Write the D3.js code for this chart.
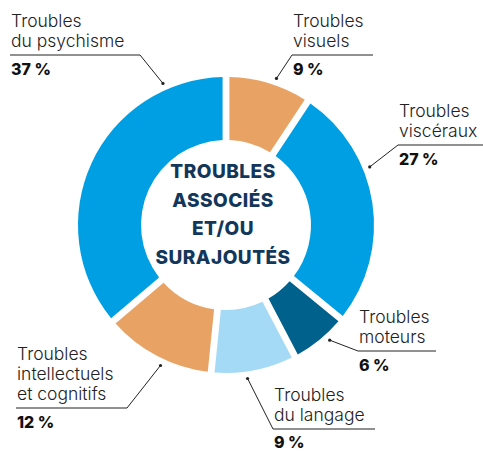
<!DOCTYPE html>
<html>
<head>
<meta charset="utf-8">
<script src="https://cdn.jsdelivr.net/npm/d3@7"></script>
<style>
  body { margin: 0; background: #fff; }
  svg { display: block; }
  .lbl { font-family: "Inter", "Open Sans", sans-serif; font-weight: 300; font-size: 17.5px; fill: #222; }
  .pct { font-family: "Inter", "Open Sans", sans-serif; font-weight: 800; font-size: 16px; fill: #111; }
  .center { font-family: "Inter", "Open Sans", sans-serif; font-weight: 800; font-size: 19px; fill: #12375a; letter-spacing: 0.5px; }
</style>
</head>
<body>
<div id="chart"></div>
<script>
// data, clockwise from the top
const categories = [
  ['Troubles', 'visuels'],
  ['Troubles', 'viscéraux'],
  ['Troubles', 'moteurs'],
  ['Troubles', 'du langage'],
  ['Troubles', 'intellectuels', 'et cognitifs'],
  ['Troubles', 'du psychisme']
];
const values = [9, 27, 6, 9, 12, 37];
const colors = ['#e8a264', '#009fe3', '#00618c', '#a4daf6', '#e8a264', '#009fe3'];
const centerTitle = ['TROUBLES', 'ASSOCIÉS', 'ET/OU', 'SURAJOUTÉS'];

// label layout: angle of the leader dot (deg), text corner, underline width
const labelLayout = [
  { angle: 19,  x: 293, y: 27,  w: 81,  side: 'left' },
  { angle: 68,  x: 399, y: 117, w: 86,  side: 'left' },
  { angle: 138, x: 359, y: 323, w: 78,  side: 'left' },
  { angle: 172, x: 274, y: 401, w: 102, side: 'left' },
  { angle: 205, x: 17,  y: 360, w: 111, side: 'right' },
  { angle: 336, x: 11,  y: 27,  w: 130, side: 'right' }
];

const width = 483, height = 452;
const cx = 226, cy = 225;
const outerR = 148, innerR = 85;

const svg = d3.select('#chart').append('svg')
  .attr('width', width)
  .attr('height', height);

const g = svg.append('g').attr('transform', `translate(${cx},${cy})`);

const pie = d3.pie().sort(null).value(d => d).padAngle(0.04);
const arc = d3.arc().innerRadius(innerR).outerRadius(outerR);

g.selectAll('path')
  .data(pie(values))
  .join('path')
  .attr('d', arc)
  .attr('fill', (d, i) => colors[i]);

// center title
g.selectAll('text.center')
  .data(centerTitle)
  .join('text')
  .attr('class', 'center')
  .attr('text-anchor', 'middle')
  .attr('x', -3)
  .attr('y', (d, i) => -47 + i * 28.5)
  .text(d => d);

// labels with leader lines
const lineH = 20;
const labels = svg.append('g');

categories.forEach((lines, i) => {
  const L = labelLayout[i];
  const a = L.angle * Math.PI / 180;
  const dotR = 155;
  const dx = cx + dotR * Math.sin(a);
  const dy = cy - dotR * Math.cos(a);
  const ruleY = L.y + (lines.length - 1) * lineH + 8;
  const x0 = L.x - 1, x1 = L.x - 1 + L.w;
  const elbowX = L.side === 'left' ? x0 : x1;

  labels.append('polyline')
    .attr('points', `${L.side === 'left' ? x1 : x0},${ruleY} ${elbowX},${ruleY} ${dx},${dy}`)
    .attr('fill', 'none')
    .attr('stroke', '#222')
    .attr('stroke-width', 1);

  labels.append('circle')
    .attr('cx', dx).attr('cy', dy).attr('r', 1.6)
    .attr('fill', '#222');

  const t = labels.append('text').attr('class', 'lbl');
  lines.forEach((s, j) => {
    t.append('tspan').attr('x', L.x).attr('y', L.y + j * lineH).text(s);
  });

  labels.append('text')
    .attr('class', 'pct')
    .attr('x', L.x)
    .attr('y', Math.min(ruleY + 20, height - 4))
    .text(values[i] + ' %');
});
</script>
</body>
</html>
